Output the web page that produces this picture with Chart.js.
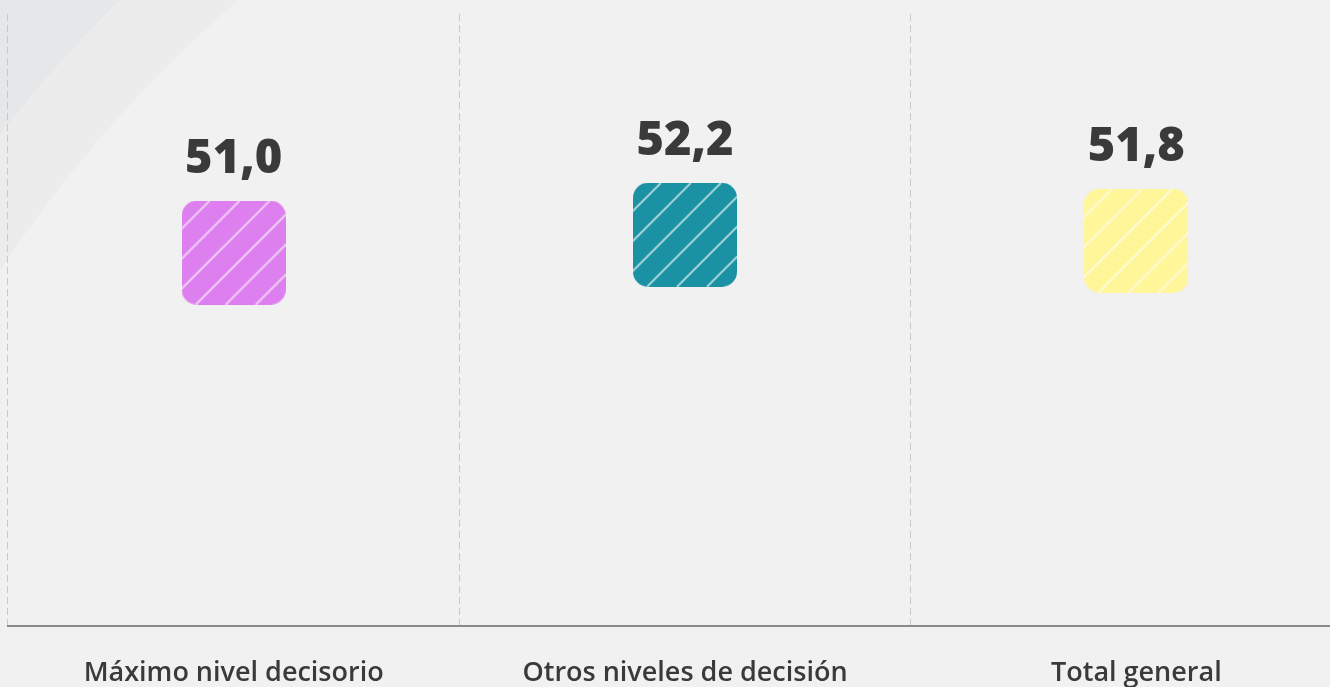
<!DOCTYPE html>
<html>
<head>
<meta charset="utf-8">
<script src="https://cdn.jsdelivr.net/npm/chart.js@4/dist/chart.umd.min.js"></script>
<style>
  html, body { margin: 0; padding: 0; overflow: hidden; background: #f1f1f1; }
  #wrap { position: relative; width: 1372px; height: 722px; }
</style>
</head>
<body>
<div id="wrap"><canvas id="chart"></canvas></div>
<script>
const categories = ["Máximo nivel decisorio", "Otros niveles de decisión", "Total general"];
const values = [51.0, 52.2, 51.8];
const colors = ["#dd7fee", "#1b92a4", "#fff69a"];

// rounded square with white diagonal hatching, used as the point style
function makeMarker(fill) {
    const size = 104;
    const c = document.createElement("canvas");
    c.width = size;
    c.height = size;
    const g = c.getContext("2d");
    g.beginPath();
    g.roundRect(0, 0, size, size, 15);
    g.fillStyle = fill;
    g.fill();
    g.save();
    g.clip();
    g.strokeStyle = "rgba(255,255,255,0.6)";
    g.lineWidth = 2;
    for (let k = -2; k < 2 * size; k += 30) {
        g.beginPath();
        g.moveTo(k, 0);
        g.lineTo(k - size, size);
        g.stroke();
    }
    g.restore();
    return c;
}

const backdrop = {
    id: "backdrop",
    beforeDraw(chart) {
        const { ctx, width, height } = chart;
        ctx.save();
        ctx.fillStyle = "#e6e7e8";
        ctx.fillRect(0, 0, width, height);
        ctx.fillStyle = "#ececed";
        ctx.beginPath();
        ctx.arc(1100, 1000, 1400, 0, Math.PI * 2);
        ctx.fill();
        ctx.fillStyle = "#f1f1f1";
        ctx.beginPath();
        ctx.arc(1100, 1000, 1320, 0, Math.PI * 2);
        ctx.fill();
        ctx.restore();
    }
};

const valueLabels = {
    id: "valueLabels",
    afterDatasetsDraw(chart) {
        const { ctx } = chart;
        const meta = chart.getDatasetMeta(0);
        ctx.save();
        ctx.font = "800 47px 'Open Sans'";
        ctx.fillStyle = "#3a3a3a";
        ctx.textAlign = "center";
        ctx.textBaseline = "alphabetic";
        meta.data.forEach((pt, i) => {
            ctx.fillText(values[i].toFixed(1).replace(".", ","), pt.x, pt.y - 52 - 28);
        });
        ctx.restore();
    }
};

const chart = new Chart(document.getElementById("chart"), {
    type: "line",
    data: {
        labels: categories,
        datasets: [{
            data: values,
            showLine: false,
            pointStyle: colors.map(makeMarker),
            pointRadius: 52,
            pointHoverRadius: 52
        }]
    },
    options: {
        responsive: true,
        maintainAspectRatio: false,
        animation: false,
        layout: { autoPadding: false, padding: { top: 14, left: 8, right: 10, bottom: 0 } },
        plugins: { legend: { display: false }, tooltip: { enabled: false } },
        scales: {
            x: {
                offset: true,
                grid: { offset: true, color: "#c9c9c9", lineWidth: 1, drawTicks: false },
                border: { display: true, color: "#8a8a8a", width: 2, dash: [7, 4] },
                ticks: {
                    padding: 32,
                    color: "#3a3a3a",
                    font: { family: "'Open Sans'", size: 27, weight: 600 }
                }
            },
            y: { display: false, min: 26, max: 67 }
        }
    },
    plugins: [backdrop, valueLabels]
});
</script>
</body>
</html>
